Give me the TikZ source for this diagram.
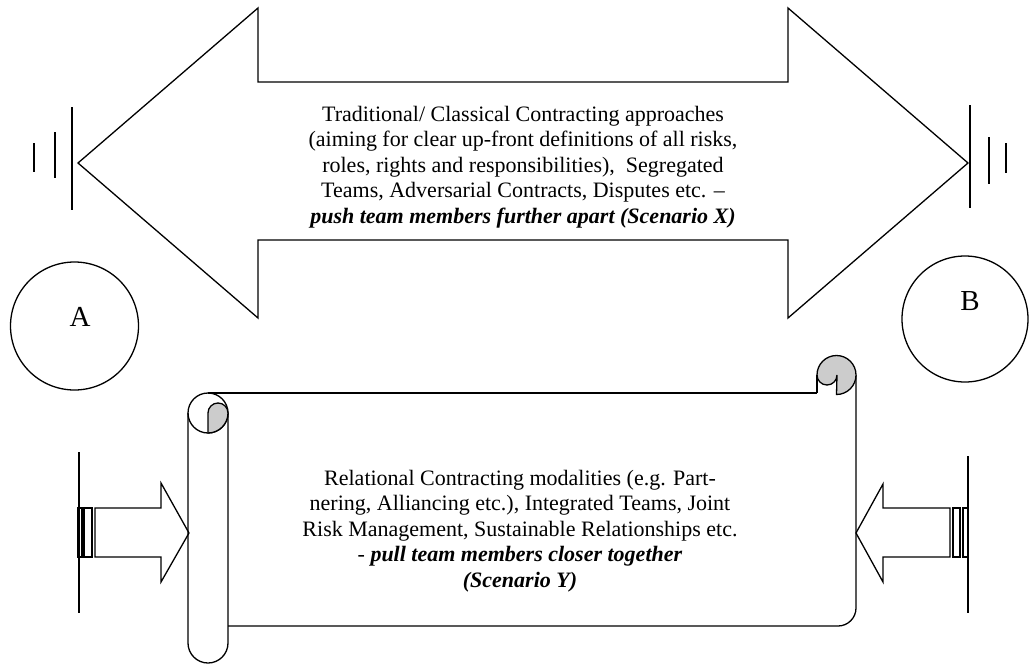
\documentclass[tikz,border=0pt]{standalone}
\usepackage{fontspec}
\setmainfont{Liberation Serif}
\usetikzlibrary{shapes.geometric}
\begin{document}
\begin{tikzpicture}[x=1pt,y=-1pt,
  shape line/.style={draw=black, line width=1.3pt, line join=miter},
  thin line/.style={draw=black, line width=1.3pt},
  curl fill/.style={fill=black!20, draw=black, line width=1.3pt},
  body text/.style={align=center, inner sep=0pt, font=\fontsize{22}{25.5}\selectfont},
  letter/.style={inner sep=0pt, font=\fontsize{29}{32}\selectfont},
  round end/.style={draw=black, line width=1.3pt, ellipse, minimum width=128pt, minimum height=128pt, inner sep=0pt}]
\useasboundingbox (0,0) rectangle (1029,664);
\fill[white] (0,0) rectangle (1029,664);

% ---- double arrow (Scenario X) ----
\draw[shape line] (78,163) -- (258,8) -- (258,82) -- (788,82) -- (788,8) -- (968,163)
   -- (788,318) -- (788,240) -- (258,240) -- (258,318) -- cycle;
\coordinate (ltip) at (78,163);
\coordinate (rtip) at (968,163);

% ---- vibration bars at the tips ----
\draw[thin line] (72,107) -- (72,210);
\draw[thin line] (55,132) -- (55,178);
\draw[thin line] (34,143) -- (34,172);
\draw[thin line] (970,105) -- (970,208);
\draw[thin line] (989,137) -- (989,184);
\draw[thin line] (1006,143) -- (1006,173);

\node[body text] (toptext) at (523,167) {Traditional/ Classical Contracting approaches\\
(aiming for clear up-front definitions of all risks,\\
roles, rights and responsibilities),\ \ Segregated\\
Teams, Adversarial Contracts, Disputes etc. --\\
\textbf{\textit{push team members further apart (Scenario X)}}};

% ---- circles A and B ----
\node[round end, minimum width=128pt, minimum height=128pt] (A) at (74.5,326) {};
\node[letter] (Alab) at (80,317) {A};
\node[round end, minimum width=126pt, minimum height=126pt] (B) at (965,319) {};
\node[letter] (Blab) at (970,301) {B};

% ---- scroll ----
% body outline
\draw[shape line] (208,393) -- (817,393);
\draw[shape line] (856,375) -- (856,608) arc[start angle=0, end angle=90, radius=18] -- (228,626);
% left rolled tube
\draw[shape line] (188,413) -- (188,643) arc[start angle=180, end angle=0, radius=20] -- (228,413);
\draw[shape line] (208,413) circle[radius=20];
\filldraw[curl fill] (208,433) -- (208,413) arc[start angle=180, end angle=360, radius=10]
   arc[start angle=0, end angle=90, radius=20] -- cycle;
% right rolled top
\filldraw[curl fill] (817,375) arc[start angle=180, end angle=360, radius=19.5]
   arc[start angle=0, end angle=90, radius=19.5] -- (837,375)
   arc[start angle=0, end angle=180, radius=10] -- cycle;
\draw[shape line] (817,375) -- (817,393);

\node[body text] (bottext) at (520,531) {Relational Contracting modalities (e.g. Part-\\
nering, Alliancing etc.), Integrated Teams, Joint\\
Risk Management, Sustainable Relationships etc.\\
- \textbf{\textit{pull team members closer together}}\\
\textbf{\textit{(Scenario Y)}}};

% ---- left push arrow ----
\draw[thin line] (79,452) -- (79,613);
\draw[thin line] (78,508) rectangle (82,557);
\draw[thin line] (84,508) rectangle (92,557);
\draw[shape line] (95,508) -- (161,508) -- (161,483) -- (189,533) -- (161,582) -- (161,557) -- (95,557) -- cycle;

% ---- right push arrow ----
\draw[thin line] (968,456) -- (968,613);
\draw[thin line] (953,508) rectangle (960,557);
\draw[thin line] (963,508) rectangle (968,557);
\draw[shape line] (950,508) -- (883,508) -- (883,484) -- (856,533) -- (883,582) -- (883,557) -- (950,557) -- cycle;
\end{tikzpicture}
\end{document}
